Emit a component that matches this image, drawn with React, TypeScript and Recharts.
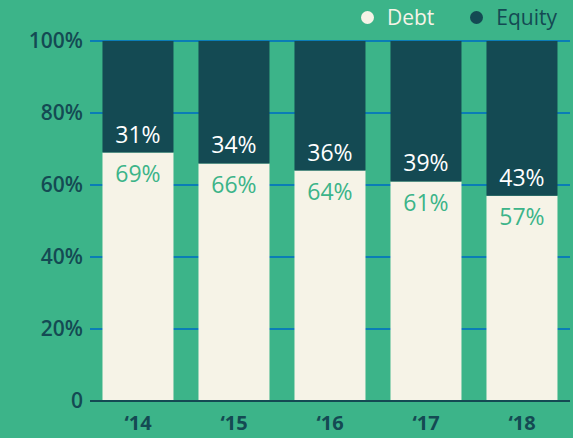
import { BarChart, Bar, XAxis, YAxis, CartesianGrid, LabelList } from 'recharts'

const years = ['‘14', '‘15', '‘16', '‘17', '‘18']
const debt = [69, 66, 64, 61, 57]
const equity = [31, 34, 36, 39, 43]
const yTicks = [0, 20, 40, 60, 80, 100]

const BG = '#3cb489'
const DARK = '#144a53'
const CREAM = '#f6f3e7'
const GRID = '#0b7db6'
const FONT = '"Open Sans", "Noto Sans", sans-serif'

const data = years.map((y, i) => ({ year: y, debt: debt[i], equity: equity[i] }))

function LegendBox() {
  const item = (label: string, color: string, gap: number) => (
    <span style={{ display: 'inline-flex', alignItems: 'center', marginLeft: gap }}>
      <span style={{ width: 13, height: 13, borderRadius: 7, background: color, marginRight: 13 }} />
      <span style={{ color, fontSize: 21 }}>{label}</span>
    </span>
  )
  return (
    <div style={{ position: 'absolute', top: 3, right: 16, display: 'flex', fontFamily: FONT, zIndex: 2 }}>
      {item('Debt', CREAM, 0)}
      {item('Equity', DARK, 36)}
    </div>
  )
}

export default function App() {
  return (
    <div style={{ position: 'fixed', left: 0, top: 0, width: 573, height: 438, background: BG }}>
      <LegendBox />
      <BarChart
        width={573}
        height={438}
        data={data}
        margin={{ top: 41, right: 3, bottom: 0, left: 0 }}
        barCategoryGap="13%"
        style={{ fontFamily: FONT }}
      >
        <CartesianGrid vertical={false} stroke={GRID} strokeWidth={2} strokeOpacity={1} />
        <XAxis
          dataKey="year"
          height={37}
          axisLine={{ stroke: DARK, strokeWidth: 2 }}
          tickLine={false}
          tickMargin={9}
          tick={{ fill: DARK, fontSize: 20, fontWeight: 700 }}
        />
        <YAxis
          width={90}
          domain={[0, 100]}
          ticks={yTicks}
          axisLine={false}
          tickLine={false}
          tickSize={0}
          tickMargin={7}
          tickFormatter={(v: number) => (v === 0 ? '0' : `${v}%`)}
          tick={{ fill: DARK, fontSize: 21, fontWeight: 600 }}
        />
        <Bar dataKey="debt" name="Debt" stackId="a" fill={CREAM} isAnimationActive={false}>
          <LabelList
            dataKey="debt"
            position="insideTop"
            offset={13}
            fill={BG}
            fontSize={23}
            formatter={(v: number) => `${v}%`}
          />
        </Bar>
        <Bar dataKey="equity" name="Equity" stackId="a" fill={DARK} isAnimationActive={false}>
          <LabelList
            dataKey="equity"
            position="insideBottom"
            offset={10}
            fill="#ffffff"
            fontSize={23}
            formatter={(v: number) => `${v}%`}
          />
        </Bar>
      </BarChart>
    </div>
  )
}
